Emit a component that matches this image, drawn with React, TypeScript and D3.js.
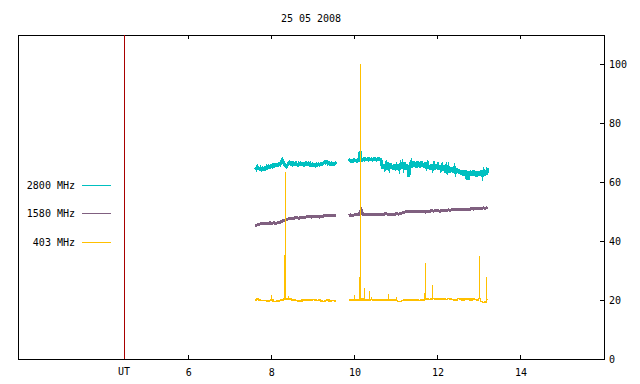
import * as d3 from "d3";

// 25 May 2008 solar radio flux, three frequencies, UT hours on x
const title = "25 05 2008";
const xTicks = [6, 8, 10, 12, 14];
const yTicks = [0, 20, 40, 60, 80, 100];
const utMark = 4.44;

// two observing runs, evenly sampled
const seg1Start = 7.6;
const seg2Start = 9.85;
const fineStep = 0.025;
const coarseStep = 0.05;

const flux2800a = [
  65.1, 64.6, 65.3, 64.8, 64.5, 64.9, 64.3, 64.7, 64.4, 64.9,
  64.6, 65.3, 64.9, 65.4, 65.0, 65.6, 65.3, 65.9, 65.5, 66.0,
  65.6, 65.9, 65.7, 66.2, 66.0, 66.8, 67.6, 66.9, 66.1, 65.6,
  65.3, 65.8, 66.4, 66.8, 66.3, 66.6, 66.0, 66.5, 66.1, 66.6,
  66.2, 65.8, 66.4, 66.0, 66.5, 66.1, 66.3, 65.8, 66.2, 66.6,
  66.1, 66.4, 65.9, 66.3, 65.8, 66.2, 65.7, 66.0, 65.6, 66.1,
  65.8, 66.2, 65.9, 66.3, 66.0, 66.4, 66.7, 67.0, 66.6, 66.9,
  66.3, 66.6, 66.2, 66.5, 66.0, 66.4, 66.1, 66.5, 66.2,
];
const flux2800b = [
  67.2, 67.5, 67.1, 67.4, 67.2, 67.6, 67.3, 67.5, 67.2, 67.6,
  67.4, 70.4, 67.8, 67.5, 67.9, 67.6, 68.0, 67.7, 67.9, 67.6,
  68.0, 67.7, 67.9, 67.6, 68.0, 67.8, 67.9, 67.6, 68.0, 67.7,
  67.9, 67.8, 65.8, 64.6, 66.2, 64.9, 66.0, 64.4, 65.7, 64.8,
  66.3, 64.6, 65.9, 64.3, 66.1, 64.9, 65.6, 64.4, 66.2, 64.7,
  65.9, 64.5, 66.0, 64.8, 65.7, 64.3, 66.1, 64.9, 62.0, 65.8,
  66.6, 65.0, 67.2, 65.3, 66.8, 64.9, 67.0, 65.4, 66.7, 65.1,
  67.3, 65.2, 66.5, 64.9, 66.9, 65.3, 66.2, 64.6, 65.9, 64.4,
  66.0, 64.7, 65.8, 64.2, 66.1, 64.5, 65.7, 64.3, 65.9, 64.6,
  65.5, 64.1, 65.8, 64.4, 65.3, 63.9, 65.0, 63.4, 64.9, 63.6,
  65.1, 63.3, 64.7, 63.5, 64.8, 63.2, 64.5, 62.9, 64.2, 62.5,
  64.0, 62.4, 64.1, 62.6, 63.8, 60.8, 63.9, 62.3, 63.7, 62.1,
  63.9, 62.2, 63.6, 62.0, 63.8, 62.3, 63.7, 62.1, 63.9, 62.4,
  63.6, 62.2, 64.1, 62.5, 65.0,
];

const flux1580a = [
  45.4, 45.5, 45.8, 45.9, 46.0, 46.1, 46.0, 46.2, 46.1, 46.2,
  46.1, 46.3, 46.4, 46.8, 47.1, 47.3, 47.6, 47.8, 47.7, 47.9,
  48.0, 47.8, 48.0, 47.9, 48.1, 48.3, 48.4, 48.2, 48.5, 48.3,
  48.4, 48.2, 48.3, 48.6, 48.8, 48.7, 48.6, 48.9, 48.7, 48.8,
];
const flux1580b = [
  48.7, 48.9, 48.8, 49.0, 48.9, 49.1, 50.6, 49.0, 49.1, 49.0,
  49.2, 49.1, 49.0, 49.2, 49.1, 49.2, 49.0, 49.2, 49.3, 49.1,
  49.2, 48.9, 49.1, 49.3, 49.2, 49.4, 49.6, 49.9, 50.0, 49.9,
  50.1, 50.0, 49.9, 50.1, 50.0, 50.2, 50.1, 49.9, 50.0, 50.2,
  50.3, 50.2, 50.4, 50.3, 50.2, 50.4, 50.3, 50.5, 50.6, 50.5,
  50.7, 50.6, 50.8, 50.7, 50.6, 50.8, 50.7, 50.9, 50.8, 51.0,
  50.9, 51.1, 51.0, 51.2, 51.1, 51.3, 51.2, 51.5,
];

const flux403a = [
  20.1, 20.3, 20.0, 19.9, 19.9, 19.8, 19.7, 19.9, 20.0, 19.6,
  19.5, 19.7, 19.8, 20.0, 20.4, 20.3, 20.3, 20.4, 20.1, 20.0,
  19.8, 19.6, 19.7, 20.0, 20.0, 20.0, 20.1, 20.0, 20.2, 20.0,
  19.9, 20.0, 19.7, 19.6, 19.9, 20.0, 19.7, 19.8, 19.8, 19.7,
];
const flux403b = [
  20.0, 20.0, 20.1, 20.0, 20.2, 20.0, 20.1, 20.3, 20.0, 20.1,
  20.0, 20.2, 20.0, 20.1, 20.0, 20.0, 19.9, 20.0, 20.1, 20.0,
  20.0, 20.1, 20.0, 19.9, 19.6, 19.6, 19.9, 20.0, 20.1, 20.0,
  19.8, 20.0, 19.9, 20.1, 19.8, 20.0, 20.1, 20.2, 20.3, 20.2,
  20.4, 20.5, 20.4, 20.5, 20.4, 20.5, 20.4, 20.2, 20.5, 20.4,
  20.2, 20.0, 20.1, 20.5, 20.4, 20.1, 20.4, 20.5, 20.3, 20.1,
  20.4, 20.2, 20.0, 20.6, 19.6, 19.2, 19.3, 20.2,
];

// short bursts at 403 MHz
const burstTimes = [7.99, 8.3, 8.34, 8.39, 9.98, 10.12, 10.14, 10.22, 10.36, 10.41, 10.82, 10.99, 11.67, 11.69, 11.86, 13.01, 13.18];
const burstPeaks = [21.8, 35.2, 63.6, 21.5, 21.8, 28.0, 100, 24.0, 23.0, 21.2, 22.0, 21.0, 22.5, 32.5, 25.0, 35.0, 28.0];

type Seg = { start: number; step: number; values: number[] };

const series = [
  {
    label: "2800 MHz",
    color: "#00c0c0",
    width: 3,
    curve: d3.curveLinear,
    segs: [
      { start: seg1Start, step: fineStep, values: flux2800a },
      { start: seg2Start, step: fineStep, values: flux2800b },
    ] as Seg[],
  },
  {
    label: "1580 MHz",
    color: "#806080",
    width: 3,
    curve: d3.curveLinear,
    segs: [
      { start: seg1Start, step: coarseStep, values: flux1580a },
      { start: seg2Start, step: coarseStep, values: flux1580b },
    ] as Seg[],
  },
  {
    label: "403 MHz",
    color: "#ffc000",
    width: 1.5,
    curve: d3.curveStep,
    segs: [
      { start: seg1Start, step: coarseStep, values: flux403a },
      { start: seg2Start, step: coarseStep, values: flux403b },
    ] as Seg[],
  },
];

const W = 640;
const H = 384;
const left = 18;
const right = 604;
const top = 35;
const bottom = 359;
const font = "'DejaVu Sans Mono', monospace";

function baseAt(t: number) {
  for (const s of series[2].segs) {
    const i = Math.round((t - s.start) / s.step);
    if (i >= 0 && i < s.values.length) return s.values[i];
  }
  return 20;
}

export default function App() {
  const x = d3.scaleLinear([1.885, 16], [left, right]);
  const y = d3.scaleLinear([0, 110], [bottom, top]);

  const legendY = [185, 213.5, 242];

  return (
    <svg
      width={W}
      height={H}
      style={{ position: "absolute", left: 0, top: 0, background: "white" }}
      fontFamily={font}
      fontSize={10}
    >
      <text x={(left + right) / 2} y={18} textAnchor="middle" dominantBaseline="central">
        {title}
      </text>

      {/* data */}
      <g fill="none" shapeRendering="crispEdges">
        {series.map((s) =>
          s.segs.map((seg, k) => {
            const line = d3
              .line<number>()
              .x((_d, i) => x(seg.start + i * seg.step))
              .y((d) => y(d))
              .curve(s.curve);
            return (
              <path key={s.label + k} d={line(seg.values) || ""} stroke={s.color} strokeWidth={s.width} />
            );
          })
        )}
        <g stroke={series[2].color} strokeWidth={1}>
          {burstTimes.map((t, i) => (
            <line key={i} x1={x(t)} x2={x(t)} y1={y(baseAt(t))} y2={y(burstPeaks[i])} />
          ))}
        </g>
      </g>

      {/* frame and axes */}
      <g stroke="black" strokeWidth={1} shapeRendering="crispEdges" fill="none">
        <rect x={left} y={top} width={right - left} height={bottom - top} />
        {xTicks.map((t) => (
          <g key={t}>
            <line x1={x(t)} x2={x(t)} y1={bottom} y2={bottom - 4} />
            <line x1={x(t)} x2={x(t)} y1={top} y2={top + 4} />
          </g>
        ))}
        {yTicks.slice(1).map((v) => (
          <line key={v} x1={right} x2={right - 4} y1={y(v)} y2={y(v)} />
        ))}
      </g>
      <line
        x1={x(utMark)}
        x2={x(utMark)}
        y1={top}
        y2={bottom}
        stroke="#a80000"
        strokeWidth={1}
        shapeRendering="crispEdges"
      />

      {xTicks.map((t) => (
        <text key={t} x={x(t)} y={372} textAnchor="middle" dominantBaseline="central">
          {t}
        </text>
      ))}
      <text x={x(utMark)} y={371} textAnchor="middle" dominantBaseline="central">
        UT
      </text>
      {yTicks.map((v) => (
        <text key={v} x={right + 5} y={y(v)} dominantBaseline="central">
          {v}
        </text>
      ))}

      {/* legend */}
      {series.map((s, i) => (
        <g key={s.label}>
          <text x={75} y={legendY[i]} textAnchor="end" dominantBaseline="central">
            {s.label}
          </text>
          <line
            x1={82}
            x2={111}
            y1={legendY[i]}
            y2={legendY[i]}
            stroke={s.color}
            strokeWidth={1}
            shapeRendering="crispEdges"
          />
        </g>
      ))}
    </svg>
  );
}
